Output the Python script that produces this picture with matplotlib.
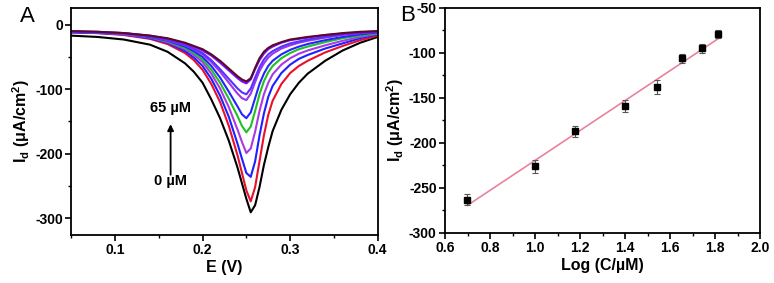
import numpy as np
import matplotlib
matplotlib.use('Agg')
import matplotlib.pyplot as plt
from matplotlib.ticker import MultipleLocator

plt.rcParams['font.family'] = ['Liberation Sans', 'DejaVu Sans']
plt.rcParams['font.weight'] = 'bold'
plt.rcParams['axes.unicode_minus'] = False
plt.rcParams['mathtext.fontset'] = 'custom'
plt.rcParams['mathtext.rm'] = 'Liberation Sans:bold'
plt.rcParams['mathtext.it'] = 'Liberation Sans:bold'
plt.rcParams['mathtext.bf'] = 'Liberation Sans:bold'

# ---- panel A: DPV curves (E in V, I in uA/cm2)
E = [0.05, 0.08, 0.11, 0.14, 0.16, 0.18, 0.19, 0.20, 0.21, 0.22, 0.23, 0.24,
     0.245, 0.25, 0.255, 0.26, 0.265, 0.27, 0.275, 0.28, 0.29, 0.30, 0.31,
     0.32, 0.34, 0.36, 0.38, 0.40]

I_0 = [-17, -19, -23, -31, -42, -60, -73, -90, -116, -145, -180, -222,
       -246, -270, -291, -280, -252, -218, -190, -165, -132, -108, -90,
       -76, -56, -40, -28, -19]
I_5 = [-12, -13, -16, -22, -30, -44, -55, -70, -92, -120, -157, -203,
       -230, -257, -274, -252, -212, -172, -140, -118, -92, -75, -64,
       -56, -43, -33, -24, -17]
I_10 = [-12, -13, -15, -21, -28, -41, -51, -64, -84, -110, -143, -185,
        -208, -230, -236, -212, -172, -138, -112, -95, -75, -62, -53,
        -47, -37, -29, -21, -15]
I_15 = [-11, -12, -15, -20, -27, -38, -47, -58, -76, -99, -128, -163,
        -182, -199, -192, -166, -134, -108, -90, -77, -62, -52, -45,
        -40, -32, -25, -19, -14]
I_25 = [-11, -12, -14, -19, -26, -36, -44, -54, -70, -90, -115, -142,
        -157, -167, -158, -134, -108, -88, -74, -64, -52, -44, -38,
        -34, -27, -21, -17, -13]
I_35 = [-11, -12, -14, -19, -25, -34, -41, -50, -64, -82, -104, -127,
        -139, -145, -136, -114, -92, -76, -64, -56, -46, -39, -34,
        -30, -24, -19, -15, -12]
I_45 = [-11, -12, -14, -18, -24, -32, -38, -46, -58, -73, -90, -107,
        -114, -117, -107, -89, -72, -60, -51, -45, -37, -32, -28,
        -25, -20, -16, -13, -11]
I_55 = [-11, -12, -13, -18, -23, -31, -37, -44, -55, -69, -84, -99,
        -105, -108, -99, -82, -66, -54, -46, -41, -34, -29, -26,
        -23, -19, -15, -13, -11]
I_60 = [-10, -11, -13, -17, -22, -29, -34, -40, -48, -59, -71, -83,
        -88, -91, -85, -69, -55, -45, -38, -34, -28, -24, -22,
        -20, -16, -14, -12, -10]
I_65 = [-10, -11, -13, -17, -21, -28, -33, -38, -46, -56, -68, -80,
        -85, -88, -83, -67, -52, -42, -36, -32, -27, -23, -21,
        -19, -16, -13, -11, -10]

curves = [I_0, I_5, I_10, I_15, I_25, I_35, I_45, I_55, I_60, I_65]
colors = ['black', '#e8102a', '#1f1fff', '#a83ae6', '#22c022', '#2424ff',
          '#9a36f0', '#5a30ff', '#7a10ff', '#5a0a28']

# ---- panel B: calibration
logC = [0.699, 1.0, 1.176, 1.398, 1.544, 1.653, 1.740, 1.813]
Id = [-263, -226, -187, -159, -138, -106, -95, -79]
err = [6, 7, 6, 7, 8, 5, 5, 4]

fig = plt.figure(figsize=(7.74, 2.83), dpi=100)
ax1 = fig.add_axes([0.092, 0.170, 0.396, 0.802])
ax2 = fig.add_axes([0.575, 0.177, 0.407, 0.795])

for I, c in zip(curves, colors):
    ax1.plot(E, I, color=c, lw=1.5)

ax1.set_xlim(0.05, 0.4)
ax1.set_ylim(-326, 26)
ax1.set_xticks([0.1, 0.2, 0.3, 0.4])
ax1.set_xticklabels(['0.1', '0.2', '0.3', '0.4'])
ax1.xaxis.set_minor_locator(MultipleLocator(0.05))
ax1.yaxis.set_major_locator(MultipleLocator(100))
ax1.yaxis.set_minor_locator(MultipleLocator(50))
ax1.set_xlabel('E (V)', fontsize=11.5, fontweight='bold', labelpad=2)
ax1.set_ylabel(r'I$_\mathregular{d}$ ($\mu$A/cm$^\mathregular{2}$)', fontsize=11.5,
               fontweight='bold', labelpad=2)

ax1.annotate('', xy=(0.1635, -150), xytext=(0.1635, -237),
             arrowprops=dict(arrowstyle='-|>', color='black', lw=1.3,
                             mutation_scale=9))
ax1.text(0.163, -129, '65 µM', fontsize=10.5, ha='center', va='center')
ax1.text(0.163, -242, '0 µM', fontsize=10.5, ha='center', va='center')

ax2.errorbar(logC, Id, yerr=err, fmt='s', color='black', ms=5,
             ecolor='#555555', elinewidth=0.8, capsize=2, capthick=0.8)
k, b = np.polyfit(logC, Id, 1)
xf = np.array([logC[0], logC[-1]])
ax2.plot(xf, k * xf + b, color='#e8839a', lw=1.2, zorder=1)

ax2.set_xlim(0.6, 2.0)
ax2.set_ylim(-300, -50)
ax2.xaxis.set_major_locator(MultipleLocator(0.2))
ax2.xaxis.set_minor_locator(MultipleLocator(0.1))
ax2.yaxis.set_major_locator(MultipleLocator(50))
ax2.yaxis.set_minor_locator(MultipleLocator(25))
ax2.set_xlabel('Log (C/µM)', fontsize=11.5, fontweight='bold', labelpad=2)
ax2.set_ylabel(r'I$_\mathregular{d}$ ($\mu$A/cm$^\mathregular{2}$)', fontsize=11.5,
               fontweight='bold', labelpad=2)

for ax in (ax1, ax2):
    for s in ax.spines.values():
        s.set_linewidth(1.3)
    ax.tick_params(which='major', direction='out', length=4, width=1.2,
                   labelsize=10, pad=2)
    ax.tick_params(which='minor', direction='out', length=2.5, width=1.0)
    for lab in ax.get_xticklabels() + ax.get_yticklabels():
        lab.set_fontweight('bold')

fig.text(0.035, 0.94, 'A', fontsize=16, ha='center', va='center', fontweight='normal')
fig.text(0.526, 0.945, 'B', fontsize=16, ha='center', va='center', fontweight='normal')

fig.savefig('out.png', dpi=100)
